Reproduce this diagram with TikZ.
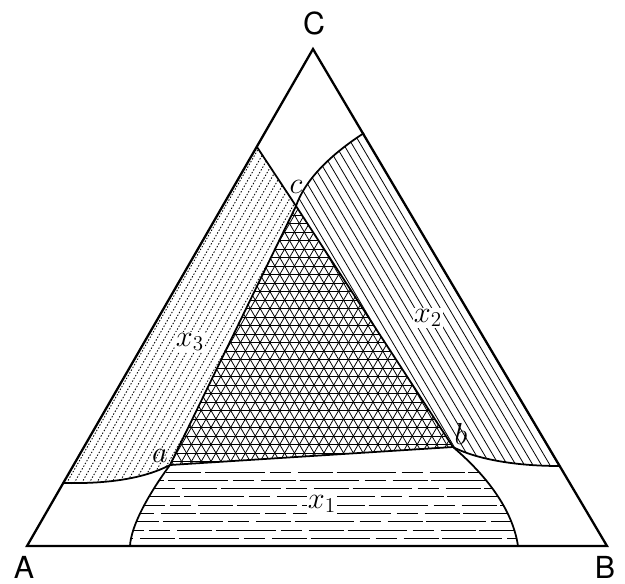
\documentclass[tikz,border=0pt]{standalone}
\usepackage{fontspec}
\setsansfont{TeX Gyre Heros}
\begin{document}
\begin{tikzpicture}[x=0.02cm,y=-0.02cm,
  edge/.style={line width=1.3pt,line join=miter},
  bound/.style={line width=1pt},
  hatch/.style={line width=0.45pt},
  dothatch/.style={line width=0.5pt,dash pattern=on 0.8pt off 1pt},
  dashhatch/.style={line width=0.55pt,dash pattern=on 34pt off 3pt on 12pt off 4pt on 20pt off 2pt},
  corner/.style={font=\sffamily\LARGE},
  point/.style={font=\LARGE,inner sep=1pt},
  region/.style={fill=white,inner sep=0.5pt,font=\LARGE}]
\useasboundingbox (0,0) rectangle (625,583);
% corners and points on the edges
\coordinate (A) at (27,546);
\coordinate (B) at (607,546);
\coordinate (C) at (313,49);
\coordinate (L) at (257,147);
\coordinate (R) at (364,133);
\coordinate (P) at (63,483);
\coordinate (Q) at (560,466);
\coordinate (F) at (130,546);
\coordinate (G) at (518,546);
% the three inner points
\coordinate (a) at (170,465);
\coordinate (b) at (453,447);
\coordinate (c) at (296,206);
% x3 band
\begin{scope}
  \clip (L) -- (c) -- (a) .. controls (145,478) and (110,484) .. (P) -- cycle;
  \foreach \x in {0,7.5,...,220}
    \draw[dothatch] (\x,560) -- ++(320,-558);
\end{scope}
% x2 band
\begin{scope}
  \clip (R) .. controls (330,155) and (305,180) .. (c) -- (b)
    .. controls (470,456) and (505,466) .. (Q) -- cycle;
  \foreach \x in {300,308.5,...,720}
    \draw[hatch] (\x,560) -- ++(-330,-559);
\end{scope}
% x1 region
\begin{scope}
  \clip (a) -- (b) .. controls (480,470) and (512,505) .. (G) -- (F)
    .. controls (131,525) and (150,492) .. (a);
  \foreach \y [count=\i] in {472,480.3,...,546} {
    \pgfmathsetmacro\st{110-mod(\i*37,90)}
    \draw[dashhatch] (\st,\y) -- (530,\y);
  }
\end{scope}
% middle triangle
\begin{scope}
  \clip (c) -- (a) -- (b) -- cycle;
  \foreach \y in {470,461.5,...,200}
    \draw[hatch] (150,\y) -- (470,\y);
  \foreach \x in {0,9.815,...,800} {
    \draw[hatch] (\x,470) -- ++(300,-519.6);
    \draw[hatch] (\x,470) -- ++(-300,-519.6);
  }
\end{scope}
% boundaries
\draw[bound] (L) -- (c) -- (a) -- (b) -- (c);
\draw[bound] (R) .. controls (330,155) and (305,180) .. (c);
\draw[bound] (P) .. controls (110,484) and (145,478) .. (a);
\draw[bound] (b) .. controls (470,456) and (505,466) .. (Q);
\draw[bound] (a) .. controls (150,492) and (131,525) .. (F);
\draw[bound] (b) .. controls (480,470) and (512,505) .. (G);
\draw[edge] (A) -- (B) -- (C) -- cycle;
% labels
\node[corner] (lA) at (24,567) {A};
\node[corner] (lB) at (605,567) {B};
\node[corner] (lC) at (314,23) {C};
\node[point] (la) at (160,456) {$a$};
\node[point] (lb) at (461,434) {$b$};
\node[point] (lc) at (296,187) {$c$};
\node[region] (x3) at (190,342) {$x_3$};
\node[region] (x2) at (428,318) {$x_2$};
\node[region] (x1) at (322,504) {$x_1$};
\end{tikzpicture}
\end{document}
